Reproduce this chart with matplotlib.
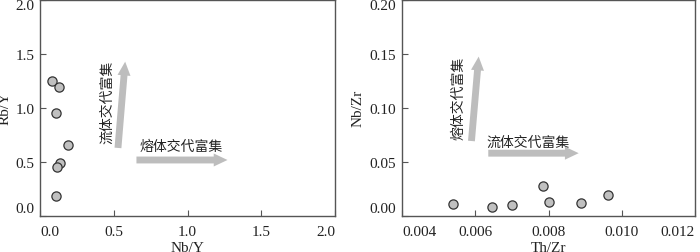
import matplotlib
matplotlib.use("Agg")
import matplotlib.pyplot as plt

plt.rcParams['font.family'] = ['Liberation Serif', 'Noto Sans CJK SC']
plt.rcParams['font.size'] = 11

# Left panel: Nb/Y vs Rb/Y
nb_y = [0.083, 0.128, 0.106, 0.189, 0.133, 0.117, 0.110]
rb_y = [1.25, 1.19, 0.95, 0.65, 0.49, 0.45, 0.18]

# Right panel: Th/Zr vs Nb/Zr
th_zr = [0.00540, 0.00646, 0.00699, 0.00786, 0.00801, 0.00889, 0.00962]
nb_zr = [0.0108, 0.0077, 0.0099, 0.0272, 0.0123, 0.0114, 0.0191]

left_xticks = [0.0, 0.5, 1.0, 1.5, 2.0]
left_yticks = [0.0, 0.5, 1.0, 1.5, 2.0]
right_xticks = [0.004, 0.006, 0.008, 0.010, 0.012]
right_yticks = [0.00, 0.05, 0.10, 0.15, 0.20]

fig = plt.figure(figsize=(7.0, 2.53), dpi=100)
H = 253.0
ax1 = fig.add_axes([40/700, (H-216.5)/H, 295/700, 216/H])
ax2 = fig.add_axes([402/700, (H-216.5)/H, 293/700, 216/H])

spine_col = '#555555'
arrow_col = '#bdbdbd'
text_col = '#222222'
cjk = ['Noto Sans CJK SC']
arrow_style = 'simple,head_length=0.9,head_width=0.85,tail_width=0.45'

def style(ax, xt, yt, xfmt, yfmt, xlabel, ylabel, ylab_x):
    for s in ax.spines.values():
        s.set_color(spine_col)
        s.set_linewidth(1.0)
    ax.set_xlim(xt[0], xt[-1])
    ax.set_ylim(yt[0], yt[-1])
    ax.set_xticks(xt)
    ax.set_yticks(yt)
    ax.set_xticklabels([xfmt.format(v) for v in xt])
    ax.set_yticklabels([yfmt.format(v) for v in yt])
    ax.tick_params(direction='in', length=4, color=spine_col, labelsize=11,
                   top=False, right=False, labelcolor=text_col)
    ax.tick_params(axis='x', pad=7)
    ax.tick_params(axis='y', pad=4)
    xl = ax.get_xticklabels()
    xl[0].set_ha('left'); xl[-1].set_ha('right')
    yl = ax.get_yticklabels()
    yl[0].set_va('bottom'); yl[-1].set_va('top')
    ax.set_xlabel(xlabel, fontsize=11, color=text_col, va='center')
    ax.set_ylabel(ylabel, fontsize=11, color=text_col, va='center')
    ax.xaxis.set_label_coords(0.5, -0.146)
    ax.yaxis.set_label_coords(ylab_x, 0.5)

# Left
ax1.scatter(nb_y, rb_y, s=44, facecolor='#c0c0c0', edgecolor='#333333', linewidth=0.9, zorder=3)
style(ax1, left_xticks, left_yticks, '{:.1f}', '{:.1f}', 'Nb/Y', 'Rb/Y', -0.117)
ax1.annotate('', xy=(0.579, 1.45), xytext=(0.527, 0.60),
             arrowprops=dict(arrowstyle=arrow_style, color=arrow_col, lw=0))
ax1.annotate('', xy=(1.29, 0.514), xytext=(0.635, 0.514),
             arrowprops=dict(arrowstyle=arrow_style, color=arrow_col, lw=0))
ax1.text(0.453, 1.055, '流体交代富集', rotation=90, ha='center', va='center',
         fontsize=10, family=cjk, color=text_col)
ax1.text(0.955, 0.646, '熔体交代富集', ha='center', va='center',
         fontsize=10, family=cjk, color=text_col)

# Right
ax2.scatter(th_zr, nb_zr, s=44, facecolor='#c0c0c0', edgecolor='#333333', linewidth=0.9, zorder=3)
style(ax2, right_xticks, right_yticks, '{:.3f}', '{:.2f}', 'Th/Zr', 'Nb/Zr', -0.150)
ax2.annotate('', xy=(0.00610, 0.1497), xytext=(0.00589, 0.0664),
             arrowprops=dict(arrowstyle=arrow_style, color=arrow_col, lw=0))
ax2.annotate('', xy=(0.00890, 0.0577), xytext=(0.00628, 0.0577),
             arrowprops=dict(arrowstyle=arrow_style, color=arrow_col, lw=0))
ax2.text(0.00553, 0.1096, '熔体交代富集', rotation=90, ha='center', va='center',
         fontsize=10, family=cjk, color=text_col)
ax2.text(0.00744, 0.0679, '流体交代富集', ha='center', va='center',
         fontsize=10, family=cjk, color=text_col)

fig.savefig('out.png', dpi=100)
